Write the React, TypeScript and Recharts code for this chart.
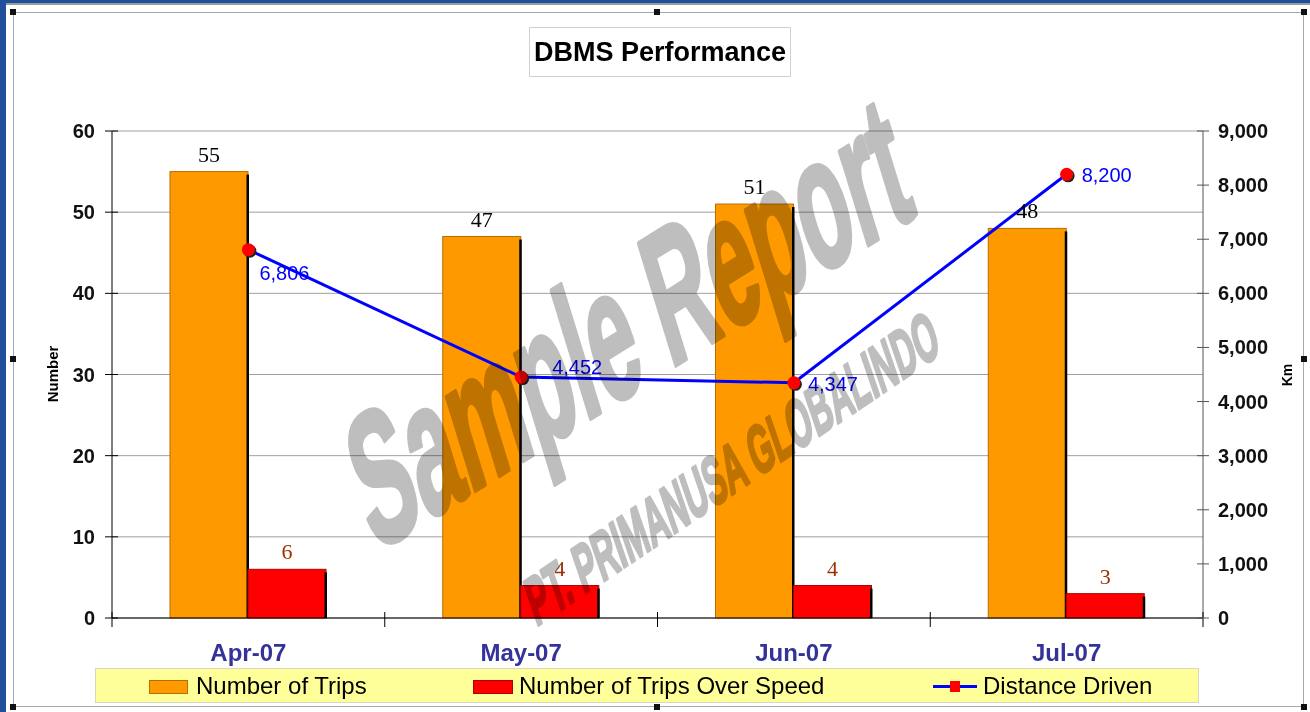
import React from 'react';
import { ComposedChart, Bar, Line, XAxis, YAxis, CartesianGrid, LabelList } from 'recharts';

// values
const months = ['Apr-07', 'May-07', 'Jun-07', 'Jul-07'];
const trips = [55, 47, 51, 48];
const tripsOverSpeed = [6, 4, 4, 3];
const distanceKm = [6806, 4452, 4347, 8200];
const numberTicks = [0, 10, 20, 30, 40, 50, 60];
const kmTicks = [0, 1000, 2000, 3000, 4000, 5000, 6000, 7000, 8000, 9000];

const data = months.map((m, i) => ({
  month: m,
  trips: trips[i],
  overSpeed: tripsOverSpeed[i],
  distance: distanceKm[i],
}));

const W = 1310;
const H = 712;
const PLOT_LEFT = 112;
const PLOT_RIGHT = 1203;
const BAND = (PLOT_RIGHT - PLOT_LEFT) / months.length;
const SANS = "'Liberation Sans', Arial, sans-serif";
const SERIF = "'Liberation Serif', 'Times New Roman', serif";

const fmt = (v: number) => v.toLocaleString('en-US');

const ShadowBar = (props: any) => {
  const { x, y, width, height, fill, edge } = props;
  if (!height || height <= 0) return <g />;
  return (
    <g>
      <rect x={x} y={y} width={width} height={height} fill={fill} stroke={edge} strokeWidth={1} />
      <rect x={x + width - 1.5} y={y + 3} width={2.5} height={height - 3} fill="#000" />
    </g>
  );
};

const LeftTick = (props: any) => {
  const { x, y, payload } = props;
  return (
    <g>
      <line x1={x - 7} x2={x + 6} y1={y} y2={y} stroke="#000" />
      <text x={x - 17} y={y + 7} textAnchor="end" fontSize={20} fontWeight="bold" fontFamily={SANS} fill="#111">
        {payload.value}
      </text>
    </g>
  );
};

const RightTick = (props: any) => {
  const { x, y, payload } = props;
  return (
    <g>
      <line x1={x - 6} x2={x + 6} y1={y} y2={y} stroke="#555" />
      <text x={x + 15} y={y + 7} textAnchor="start" fontSize={20} fontWeight="bold" fontFamily={SANS} fill="#111">
        {fmt(payload.value)}
      </text>
    </g>
  );
};

const MonthTick = (props: any) => {
  const { x, y, payload, index } = props;
  const half = BAND / 2;
  return (
    <g>
      <line x1={x - half} x2={x - half} y1={y - 6} y2={y + 9} stroke="#000" />
      {index === months.length - 1 && (
        <line x1={x + half} x2={x + half} y1={y - 6} y2={y + 9} stroke="#000" />
      )}
      <text x={x} y={y + 43} textAnchor="middle" fontSize={24} fontWeight="bold" fontFamily={SANS} fill="#333399">
        {payload.value}
      </text>
    </g>
  );
};

const barLabel = (color: string) => (p: any) => {
  const vb = p.viewBox || p;
  return (
    <text
      key={p.index}
      x={vb.x + vb.width / 2}
      y={vb.y - 10}
      textAnchor="middle"
      fontSize={22}
      fontFamily={SERIF}
      fill={color}
    >
      {p.value}
    </text>
  );
};

// label nudges relative to each point (Apr label was dragged below the line)
const lineLabelNudge = [
  { dx: 11, dy: 30 },
  { dx: 31, dy: -3 },
  { dx: 14, dy: 8 },
  { dx: 15, dy: 8 },
];

const lineLabel = (p: any) => {
  const x = p.x ?? p.viewBox?.x;
  const y = p.y ?? p.viewBox?.y;
  const n = lineLabelNudge[p.index] || { dx: 14, dy: 7 };
  return (
    <text key={p.index} x={x + n.dx} y={y + n.dy} fontSize={20} fontFamily={SANS} fill="#0000FF">
      {fmt(p.value)}
    </text>
  );
};

const RedDot = (p: any) => {
  const { cx, cy, index } = p;
  return (
    <g key={index}>
      <circle cx={cx + 1.5} cy={cy + 1.5} r={6.5} fill="#222" />
      <circle cx={cx} cy={cy} r={6.5} fill="#FF0000" />
    </g>
  );
};

const handle = (left: number, top: number) => (
  <div
    key={`${left}-${top}`}
    style={{ position: 'absolute', left: left - 3, top: top - 3, width: 6, height: 6, background: '#111' }}
  />
);

export default function App() {
  return (
    <div style={{ position: 'absolute', left: 0, top: 0, width: W, height: H, background: '#fff', overflow: 'hidden', fontFamily: SANS }}>
      {/* window frame */}
      <div style={{ position: 'absolute', left: 0, top: 0, width: W, height: 3, background: '#1F4E9A' }} />
      <div style={{ position: 'absolute', left: 0, top: 3, width: W, height: 2, background: '#9A9A9A' }} />
      <div style={{ position: 'absolute', left: 0, top: 0, width: 6, height: H, background: '#1F4E9A' }} />
      <div style={{ position: 'absolute', left: 13, top: 12, width: 1291, height: 695, border: '1px solid #A8A8A8', boxSizing: 'border-box' }} />

      {/* title */}
      <div
        style={{
          position: 'absolute', left: 529, top: 27, width: 262, height: 50, border: '1px solid #D0D0D0',
          boxSizing: 'border-box', display: 'flex', alignItems: 'center', justifyContent: 'center',
          fontSize: 27, fontWeight: 'bold', color: '#000',
        }}
      >
        DBMS Performance
      </div>

      <div style={{ position: 'absolute', left: 0, top: 0 }}>
        <ComposedChart
          width={W}
          height={H}
          data={data}
          margin={{ top: 131, right: 37, bottom: 54, left: 52 }}
          barCategoryGap={58}
          barGap={0}
        >
          <CartesianGrid yAxisId="left" vertical={false} stroke="#A0A0A0" />
          <XAxis
            dataKey="month"
            height={40}
            axisLine={{ stroke: '#000' }}
            tickLine={false}
            tickSize={0}
            tickMargin={0}
            tick={<MonthTick />}
            interval={0}
          />
          <YAxis
            yAxisId="left"
            width={60}
            domain={[0, 60]}
            ticks={numberTicks}
            interval={0}
            axisLine={{ stroke: '#000' }}
            tickLine={false}
            tickSize={0}
            tickMargin={0}
            tick={<LeftTick />}
          />
          <YAxis
            yAxisId="right"
            orientation="right"
            width={70}
            domain={[0, 9000]}
            ticks={kmTicks}
            interval={0}
            axisLine={{ stroke: '#555' }}
            tickLine={false}
            tickSize={0}
            tickMargin={0}
            tick={<RightTick />}
          />
          <Bar
            yAxisId="left"
            dataKey="trips"
            name="Number of Trips"
            fill="#FF9900"
            shape={(p: any) => <ShadowBar {...p} edge="#B86E00" />}
            isAnimationActive={false}
          >
            <LabelList dataKey="trips" content={barLabel('#000')} />
          </Bar>
          <Bar
            yAxisId="left"
            dataKey="overSpeed"
            name="Number of Trips Over Speed"
            fill="#FF0000"
            shape={(p: any) => <ShadowBar {...p} edge="#B00000" />}
            isAnimationActive={false}
          >
            <LabelList dataKey="overSpeed" content={barLabel('#993300')} />
          </Bar>
          <Line
            yAxisId="right"
            dataKey="distance"
            name="Distance Driven"
            stroke="#0000FF"
            strokeWidth={3}
            dot={RedDot}
            activeDot={false}
            isAnimationActive={false}
          >
            <LabelList dataKey="distance" content={lineLabel} />
          </Line>
        </ComposedChart>
      </div>

      {/* watermark, multiplied over the plot */}
      <svg
        style={{ position: 'absolute', left: 0, top: 0, pointerEvents: 'none', mixBlendMode: 'multiply' }}
        width={W}
        height={H}
      >
        <g
          fill="#BEBEBE"
          stroke="#BEBEBE"
          strokeWidth={5}
          strokeLinejoin="round"
          fontFamily="'Liberation Sans Narrow', 'Liberation Sans', Arial"
          fontWeight="bold"
        >
          <text
            transform="translate(628,322) rotate(-32) skewX(-15)"
            textAnchor="middle"
            dominantBaseline="central"
            fontSize={178}
            textLength={640}
            lengthAdjust="spacingAndGlyphs"
          >
            Sample Report
          </text>
          <text
            transform="translate(732,468) rotate(-34) skewX(-15)"
            textAnchor="middle"
            dominantBaseline="central"
            fontSize={64}
            strokeWidth={3}
            textLength={490}
            lengthAdjust="spacingAndGlyphs"
          >
            PT. PRIMANUSA GLOBALINDO
          </text>
        </g>
      </svg>

      {/* axis titles */}
      <svg style={{ position: 'absolute', left: 0, top: 0, pointerEvents: 'none' }} width={W} height={H}>
        <text transform="translate(58,374) rotate(-90)" textAnchor="middle" fontSize={15} fontWeight="bold" fontFamily={SANS}>
          Number
        </text>
        <text transform="translate(1292,375) rotate(-90)" textAnchor="middle" fontSize={14} fontWeight="bold" fontFamily={SANS}>
          Km
        </text>
      </svg>

      {/* legend */}
      <div
        style={{
          position: 'absolute', left: 95, top: 668, width: 1104, height: 35, background: '#FFFF99',
          border: '1px solid #D8D8C0', boxSizing: 'border-box', fontSize: 24, color: '#000',
        }}
      >
        <div style={{ position: 'absolute', left: 53, top: 11, width: 39, height: 14, background: '#FF9900', border: '1px solid #B86E00', boxSizing: 'border-box' }} />
        <div style={{ position: 'absolute', left: 100, top: 2, lineHeight: '30px', whiteSpace: 'nowrap' }}>Number of Trips</div>
        <div style={{ position: 'absolute', left: 377, top: 11, width: 40, height: 14, background: '#FF0000', border: '1px solid #B00000', boxSizing: 'border-box' }} />
        <div style={{ position: 'absolute', left: 423, top: 2, lineHeight: '30px', whiteSpace: 'nowrap' }}>Number of Trips Over Speed</div>
        <div style={{ position: 'absolute', left: 837, top: 16, width: 44, height: 3, background: '#0000FF' }} />
        <div style={{ position: 'absolute', left: 854, top: 12, width: 10, height: 11, background: '#FF0000' }} />
        <div style={{ position: 'absolute', left: 887, top: 2, lineHeight: '30px', whiteSpace: 'nowrap' }}>Distance Driven</div>
      </div>

      {/* selection handles */}
      {[
        [13, 12], [657, 12], [1304, 12],
        [13, 359], [1304, 359],
        [13, 707], [657, 707], [1304, 707],
      ].map(([l, t]) => handle(l, t))}
    </div>
  );
}
